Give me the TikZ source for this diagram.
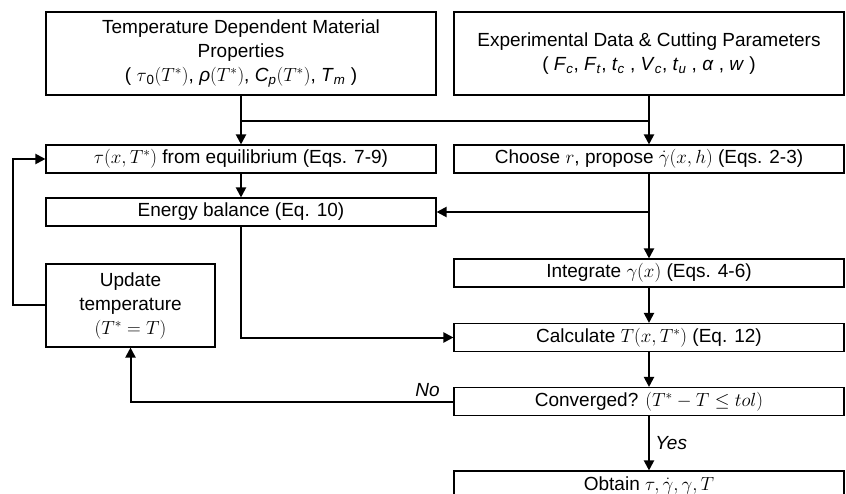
\RequirePackage{fix-cm}
\documentclass[tikz,border=0pt]{standalone}
\usepackage[no-math]{fontspec}
\setmainfont{Liberation Sans}
\usetikzlibrary{arrows.meta}

\newcommand{\itsub}[2]{\textit{#1}\textsubscript{\textit{#2}}}

\begin{document}
\begin{tikzpicture}[x=1pt,y=-1pt,->,>={Triangle[length=10pt,width=10pt]},line width=2pt,
    every node/.style={font=\fontsize{19}{24}\selectfont}]
        \tikzstyle{block}=[draw, line width=1.1pt, minimum width=390pt, minimum height=28pt, inner sep=2pt, align=center]

        \clip (0,0) rectangle (846,494);

        % inputs
        \node[block, minimum height=83pt] (props) at (241,53.5)
            {Temperature Dependent Material\\Properties\\( $\tau$\textsubscript{0}$(T^*)$, \textit{ρ}$(T^*)$, \itsub{C}{p}$(T^*)$, \itsub{T}{m} )};
        \node[block, minimum height=83pt] (expdata) at (649,53.5)
            {Experimental Data \& Cutting Parameters\\( \itsub{F}{c}, \itsub{F}{t}, \itsub{t}{c} , \itsub{V}{c}, \itsub{t}{u} , \textit{α} , \textit{w} )};

        % left column
        \node[block] (shear)  at (241,159)   {$\tau(x,T^*)$ from equilibrium (Eqs. 7-9)};
        \node[block] (energy) at (241,212)   {Energy balance (Eq. 10)};
        \node[block, minimum width=169pt, minimum height=83pt] (update) at (130.5,305.5)
            {Update\\temperature\\$(T^*=T)$};

        % right column
        \node[block] (choose)   at (649,159)   {Choose $r$, propose $\dot{\gamma}(x,h)$ (Eqs. 2-3)};
        \node[block] (integ)    at (649,273)   {Integrate $\gamma(x)$ (Eqs. 4-6)};
        \node[block] (calc)     at (649,337.5) {Calculate $T(x,T^*)$ (Eq. 12)};
        \node[block] (conv)     at (649,401.5) {Converged? $(T^*-T\le tol)$};
        \node[block] (obtain)   at (649,485)   {Obtain $\tau,\dot{\gamma},\gamma,T$};

        \coordinate (jl) at (241,121);
        \coordinate (jr) at (649,121);
        \coordinate (br) at (649,212);

        \draw[-] (jl) -- (jr);
        \draw (props) -- (shear);
        \draw (expdata) -- (choose);
        \draw (shear) -- (energy);
        \draw (choose) -- (integ);
        \draw (br) -- (energy);
        \draw (integ) -- (calc);
        \draw (energy) |- (calc);
        \draw (calc) -- (conv);
        \draw (conv) -| node[pos=0.04, above] {\textit{No}} (update);
        \draw (conv) -- node[right, xshift=2pt] {\textit{Yes}} (obtain);
        \draw (update.west) -- ++(-32,0) |- (shear);
\end{tikzpicture}
\end{document}
